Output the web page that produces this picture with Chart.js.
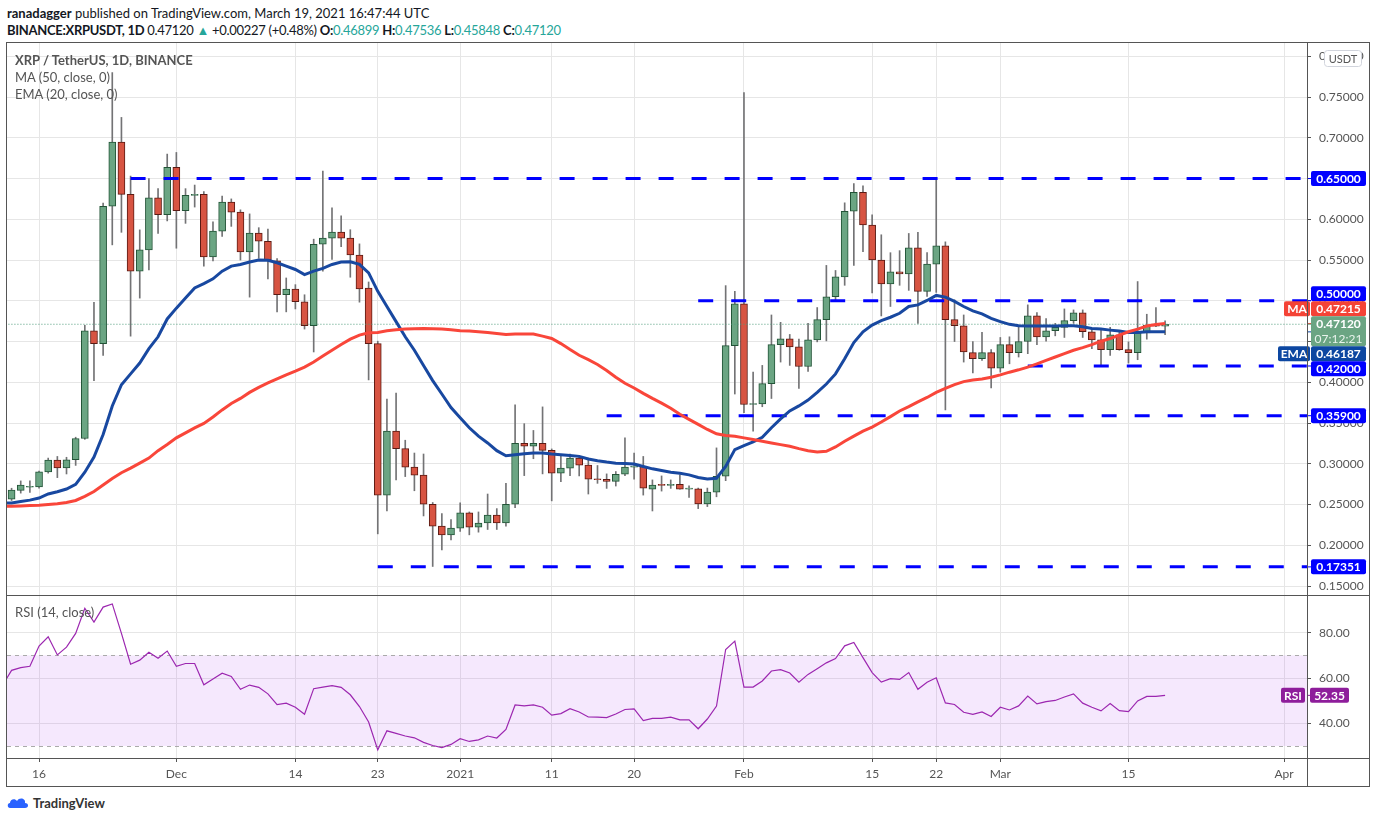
<!DOCTYPE html>
<html lang="en">
<head>
<meta charset="UTF-8">
<title>XRP / TetherUS, 1D, BINANCE</title>
<script src="https://cdn.jsdelivr.net/npm/chart.js@4"></script>
<style>
  body{margin:0;background:#fff;font-family:Lato,'Noto Sans',sans-serif;color:#131722;}
  .wrap{position:relative;width:1376px;height:823px;overflow:hidden;}
  .abs{position:absolute;white-space:nowrap;}
  .t{color:#26a69a;}
  .leg{color:#555;font-size:13px;line-height:17px;}
  .ln{position:absolute;background:#555;}
  canvas{position:absolute;}
</style>
</head>
<body>
<div class="wrap">
  <div class="abs" style="left:7px;top:5px;font-size:13px;"><b>ranadagger</b> published on TradingView.com, March 19, 2021 16:47:44 UTC</div>
  <div class="abs" style="left:7px;top:22px;font-size:13px;letter-spacing:-0.3px;"><b>BINANCE:XRPUSDT, 1D</b> 0.47120 <span class="t">▲</span> +0.00227 (+0.48%) <b>O:</b><span class="t">0.46899</span> <b>H:</b><span class="t">0.47536</span> <b>L:</b><span class="t">0.45848</span> <b>C:</b><span class="t">0.47120</span></div>

  <div class="abs" style="left:6px;top:42px;width:1364px;height:745px;border:1px solid #555;box-sizing:border-box;"></div>
  <canvas id="main" width="1362" height="552" style="left:7px;top:43px;width:1362px;height:552px;"></canvas>
  <canvas id="rsi" width="1362" height="190" style="left:7px;top:596px;width:1362px;height:190px;"></canvas>
  <div class="ln" style="left:6px;top:595px;width:1364px;height:1px;"></div>
  <div class="ln" style="left:6px;top:758px;width:1364px;height:1px;"></div>
  <div class="ln" style="left:1307px;top:42px;width:1px;height:745px;"></div>

  <div class="abs leg" style="left:15px;top:52px;"><b>XRP / TetherUS, 1D, BINANCE</b><br>MA (50, close, 0)<br>EMA (20, close, 0)</div>
  <div class="abs leg" style="left:15px;top:604px;">RSI (14, close)</div>

  <div class="abs" style="left:7px;top:795px;font-size:13px;font-weight:700;color:#333;display:flex;align-items:center;gap:4px;">
    <svg width="22" height="14" viewBox="0 0 22 14"><path d="M3 12 C0 12 0 7 3 7 C3 3 8 2 10 5 C12 1 19 2 18 7 C22 7 22 12 18 12 Z" fill="#2962ff"/></svg>TradingView
  </div>
</div>

<script>
// daily candles XRP/USDT, 2020-11-12 .. 2021-03-19
const startDate = '2020-11-12';
const open = [.2600,.2566,.2674,.2712,.2716,.2900,.3045,.2950,.3050,.3310,.4632,.4475,.6160,.6946,.6306,.5364,.5624,.6264,.6058,
  .6636,.6107,.6293,.6306,.5537,.5855,.6211,.6087,.5599,.5830,.5730,.5490,.5074,.5145,.4988,.4694,.5694,.5769,.5843,.5769,.5562,.5157,.4475,.2616,.3401,.3186,.2959,.2860,.2504,.2236,.2128,
  .2211,.2397,.2223,.2273,.2372,.2273,.2504,.3252,.3215,.3252,.3165,.2884,.2946,.3070,.2983,.2810,.2810,.2785,.2872,.2959,.2967,.2690,.2740,.2736,.2748,.2690,.2694,.2508,.2653,.2847,.4450,
  .4963,.3727,.3736,.3983,.4463,.4533,.4434,.4194,.4521,.4769,.5050,.5293,.6099,.6331,.5930,.5500,.5207,.5355,.5331,.5649,.5116,.5450,.5674,.4769,.4694,.4364,.4289,.4364,
  .4174,.4463,.4364,.4500,.4814,.4558,.4632,.4673,.4756,.4851,.4620,.4521,.4401,.4583,.4401,.4364,.4607,.4702,.4690];
const high = [.262,.270,.279,.279,.291,.307,.309,.308,.3326,.470,.498,.620,.780,.725,.653,.587,.650,.6376,.680,
  .682,.6376,.642,.634,.597,.6285,.625,.6116,.6066,.5897,.588,.5517,.528,.5198,.5074,.5756,.659,.614,.6041,.5872,.5698,.5231,.4504,.3793,.3868,.3289,.3132,.312,.2525,.2388,.2314,
  .2521,.2409,.2409,.2629,.245,.276,.3723,.3492,.3409,.3698,.3182,.3112,.312,.3103,.307,.2979,.2876,.2905,.3318,.3132,.309,.2802,.2851,.2802,.2864,.2731,.2702,.2702,.3195,.5186,.5116,
  .7554,.4124,.4207,.4826,.4736,.4587,.4529,.4723,.4917,.5434,.5372,.6202,.6438,.6409,.6054,.581,.559,.5615,.5826,.5839,.559,.650,.5723,.5012,.4826,.450,.4612,.4401,
  .455,.4558,.469,.495,.4855,.4781,.4723,.490,.4888,.4888,.466,.464,.4674,.4632,.4496,.5236,.4835,.4917,.47536];
const low = [.254,.255,.264,.265,.270,.2885,.283,.2875,.298,.330,.402,.433,.5686,.584,.4566,.5033,.538,.5826,.598,
  .5645,.595,.615,.5426,.5488,.579,.5913,.550,.5045,.5521,.5269,.4864,.4864,.490,.4653,.4372,.5364,.5508,.5665,.5289,.4983,.4029,.214,.2421,.2802,.2843,.2669,.236,.1740,.1942,.2066,
  .217,.2128,.2161,.2194,.2194,.2236,.2463,.2855,.3062,.2876,.2545,.2781,.2855,.2851,.2629,.276,.2698,.2727,.2855,.281,.2616,.2421,.2665,.2698,.269,.2587,.245,.2475,.2595,.2793,.3856,
  .3628,.3401,.3700,.3801,.4248,.4207,.3926,.4132,.4496,.4508,.5012,.519,.5434,.5603,.5095,.4814,.4930,.519,.5128,.4723,.5054,.5103,.3661,.450,.4248,.4116,.4269,.393,
  .4124,.4227,.431,.4351,.4463,.4504,.457,.455,.4723,.455,.4413,.4215,.4331,.4393,.4236,.4277,.4529,.4682,.45848];
const close = [.2560,.2678,.2740,.2716,.2900,.3045,.2950,.3050,.3310,.4632,.4475,.6160,.6946,.6306,.5364,.5624,.6264,.6058,.6636,
  .6107,.6293,.6300,.5537,.5855,.6211,.6087,.5599,.5830,.5730,.5500,.5074,.5145,.4988,.4694,.5694,.5769,.5843,.5769,.5562,.5145,.4475,.2616,.3401,.3186,.2959,.2860,.2504,.2236,.2128,.2211,
  .2397,.2223,.2273,.2372,.2273,.2504,.3252,.3215,.3252,.3165,.2884,.2946,.3070,.2983,.2810,.2804,.2785,.2872,.2959,.2967,.2702,.2740,.2736,.2748,.2690,.2698,.2508,.2653,.2847,.4450,.4963,
  .3727,.3736,.3983,.4463,.4533,.4434,.4194,.4521,.4769,.5050,.5293,.6099,.6331,.5930,.5500,.5207,.5355,.5331,.5649,.5116,.5450,.5674,.4769,.4694,.4372,.4289,.4364,.4174,
  .4463,.4364,.4500,.4814,.4558,.4632,.4673,.4756,.4851,.4620,.4521,.4401,.4583,.4401,.4364,.4607,.4702,.4690,.4712];

// indicator lines
const ma50 = [.2478,.2480,.2483,.2487,.2492,.2500,.2510,.2525,.2550,.2600,.2660,.2740,.2820,.2890,.2946,.3008,.3070,.3161,.3236,
  .3318,.3380,.3440,.3496,.3574,.3661,.3740,.3802,.3876,.3938,.3992,.4041,.4091,.4136,.4186,.4248,.4322,.4393,.4463,.4529,.4579,.4607,.4612,.4632,.4645,.4653,.4657,.4661,.4657,.4653,.4645,
  .4632,.4628,.4620,.4612,.4600,.4587,.4591,.4591,.4591,.4566,.4537,.4475,.4401,.4331,.4277,.4219,.4145,.4062,.3988,.3930,.3864,.3802,.3744,.3682,.3607,.3545,.3483,.3421,.3368,.3347,.3339,
  .3318,.3298,.3277,.3256,.3235,.3215,.3186,.3161,.3145,.3153,.3207,.3277,.3339,.3401,.3450,.3512,.3579,.3648,.3702,.3760,.3814,.3876,.3926,.3971,.4008,.4029,.4041,.4062,
  .4091,.4124,.4153,.4186,.4227,.4269,.4310,.4351,.4393,.4426,.4463,.4504,.4537,.4579,.4620,.4653,.4690,.4710,.47215];
const ema20 = [.2515,.2520,.2537,.2554,.2580,.2630,.2657,.2690,.2748,.2897,.3083,.3360,.3710,.3970,.4103,.4236,.4413,.4558,.4777,
  .4910,.5033,.5157,.5211,.5269,.5364,.5426,.5446,.5475,.5500,.5496,.5467,.5426,.5384,.5322,.5364,.5397,.5446,.5475,.5479,.5446,.5343,.5116,.4930,.4744,.4558,.4393,.4207,.4021,.3856,.3690,
  .3566,.3442,.3339,.3256,.3161,.3099,.3112,.3124,.3132,.3132,.3120,.3112,.3103,.3091,.3058,.3037,.3021,.3008,.3004,.2996,.2967,.2938,.2917,.2897,.2884,.2864,.2831,.2814,.2822,.2967,.3174,
  .3223,.3269,.3326,.3442,.3550,.3648,.3710,.3781,.3876,.3979,.4103,.4290,.4488,.4620,.4702,.4756,.4798,.4847,.4930,.4950,.5004,.5066,.5045,.4992,.4930,.4876,.4839,.4785,
  .4744,.4711,.4694,.4690,.4690,.4690,.4690,.4694,.4694,.4682,.4661,.4653,.4640,.4628,.4612,.4612,.4620,.4620,.46187];
const rsi14 = [56.7,63.4,64.6,65.2,74.1,78.2,70.2,73.6,79.7,90.8,84.7,91.3,92.7,79.7,66.1,67.9,71.4,68.7,71.9,
  65.2,66.4,66.4,57.0,59.6,62.1,60.7,55.0,56.9,55.9,53.0,48.3,48.9,47.1,44.0,55.3,56.0,56.6,55.9,52.6,47.4,40.6,28.3,36.7,35.6,34.4,33.6,31.6,30.2,29.3,30.7,
  33.2,32.0,32.7,34.4,33.5,37.3,48.1,47.7,48.1,47.1,43.6,44.3,46.5,45.0,42.8,42.7,42.5,44.1,46.1,46.4,41.2,42.2,42.2,42.7,41.5,41.5,37.6,41.9,47.6,72.6,76.3,
  56.0,56.0,58.7,63.1,63.7,62.2,58.2,61.6,64.1,66.7,68.6,74.2,75.7,69.0,62.4,58.2,59.7,59.4,62.4,55.0,58.1,60.1,49.0,48.3,44.9,44.0,45.0,43.0,
  47.1,45.9,47.7,52.0,48.6,49.6,50.1,51.6,53.0,48.9,47.1,45.5,48.7,45.6,45.2,49.9,51.9,51.9,52.35];

// drawn horizontal levels
const levelValues = [0.65, 0.5, 0.42, 0.359, 0.17351];
const levelStarts = ['2020-11-26', '2021-01-27', '2021-03-04', '2021-01-17', '2020-12-23'];

// axes
const tickDates = ['2020-11-16','2020-12-01','2020-12-14','2020-12-23','2021-01-01','2021-01-11','2021-01-20','2021-02-01','2021-02-15','2021-02-22','2021-03-01','2021-03-15','2021-04-01'];
const tickText = ['16','Dec','14','23','2021','11','20','Feb','15','22','Mar','15','Apr'];
const priceTicks = [0.15,0.20,0.25,0.30,0.35,0.40,0.45,0.50,0.55,0.60,0.65,0.70,0.75,0.80];
const rsiTicks = [40, 60, 80];
const lastDate = '2021-04-03';
const countdown = '07:12:21';

const dayIndex = s => Math.round((Date.parse(s) - Date.parse(startDate)) / 864e5);
const tickIdx = tickDates.map(dayIndex);
const xMax = dayIndex(lastDate) + 0.5;

const GREEN = '#6ba583', GREEN_B = '#225437', RED = '#d75442', RED_B = '#5b1a13';
const GRID = '#e6e6e6', AX = '#555';
const FONT = 'Lato, "Noto Sans", sans-serif';

const up = open.map((o, i) => close[i] >= o);
const pts = arr => arr.map((v, i) => ({x: i, y: v}));

const lastClose = close[close.length - 1];
const maLast = ma50[ma50.length - 1], emaLast = ema20[ema20.length - 1], rsiLast = rsi14[rsi14.length - 1];

// keep chart area flush with the canvas edges
const noPad = s => { s.paddingTop = 0; s.paddingBottom = 0; s.paddingLeft = 0; s.paddingRight = 0; };

function box(ctx, x, yc, w, h, bg, txt, bold) {
  ctx.fillStyle = bg;
  ctx.beginPath(); ctx.roundRect(x, yc - h / 2, w, h, 2); ctx.fill();
  ctx.fillStyle = '#fff';
  ctx.font = (bold ? 'bold ' : '') + '12px ' + FONT;
  ctx.textAlign = 'center'; ctx.textBaseline = 'middle';
  ctx.fillText(txt, x + w / 2, yc + 0.5);
}

// price labels on the right, pushed apart like TradingView does
const priceLabels = {
  id: 'priceLabels',
  afterDraw(chart) {
    const {ctx, chartArea: a, scales: {y}} = chart;
    const L = levelValues.map(v => ({v, h: 15, bg: '#0000ff', txt: v.toFixed(5)}));
    L.push({v: maLast, h: 15, bg: '#f44336', txt: maLast.toFixed(5), tag: 'MA', tw: 26});
    L.push({v: emaLast, h: 15, bg: '#0d47a1', txt: emaLast.toFixed(5), tag: 'EMA', tw: 32});
    L.push({v: lastClose, h: 30, bg: GREEN, txt: lastClose.toFixed(5), anchor: true});
    L.forEach(l => { l.c = y.getPixelForValue(l.v) + (l.anchor ? 7 : 0); l.want = l.c; });
    L.sort((p, q) => p.want - q.want);
    const k = L.findIndex(l => l.anchor);
    for (let i = k - 1; i >= 0; i--) L[i].c = Math.min(L[i].want, L[i + 1].c - L[i + 1].h / 2 - L[i].h / 2);
    for (let i = k + 1; i < L.length; i++) L[i].c = Math.max(L[i].want, L[i - 1].c + L[i - 1].h / 2 + L[i].h / 2);
    const bx = a.right + 4, bw = 55;
    L.forEach(l => {
      ctx.fillStyle = l.bg;
      ctx.fillRect(a.right, y.getPixelForValue(l.v) - 0.5, 4, 1);
      if (l.anchor) {
        ctx.beginPath(); ctx.roundRect(bx, l.c - 15, bw, 30, 2); ctx.fill();
        ctx.fillStyle = '#fff'; ctx.textAlign = 'center'; ctx.textBaseline = 'middle';
        ctx.font = 'bold 12px ' + FONT; ctx.fillText(l.txt, bx + bw / 2, l.c - 7);
        ctx.fillStyle = '#e8f3ec'; ctx.font = '12px ' + FONT; ctx.fillText(countdown, bx + bw / 2, l.c + 8);
      } else {
        box(ctx, bx, l.c, bw, l.h, l.bg, l.txt, true);
        if (l.tag) box(ctx, a.right + 3 - l.tw, l.c, l.tw, l.h, l.bg, l.tag, true);
      }
    });
    // unit badge
    ctx.fillStyle = '#fff'; ctx.strokeStyle = '#d1d4dc'; ctx.lineWidth = 1;
    ctx.beginPath(); ctx.roundRect(a.right + 17.5, 7.5, 37, 16, 3); ctx.fill(); ctx.stroke();
    ctx.fillStyle = AX; ctx.font = '11px ' + FONT; ctx.textAlign = 'center'; ctx.textBaseline = 'middle';
    ctx.fillText('USDT', a.right + 36, 16);
  }
};

new Chart(document.getElementById('main'), {
  type: 'bar',
  data: {
    datasets: [
      {type: 'line', data: pts(ma50), borderColor: '#f9463a', borderWidth: 3, pointRadius: 0, order: 0},
      {type: 'line', data: pts(ema20), borderColor: '#1848a0', borderWidth: 3, pointRadius: 0, order: 0},
      ...levelValues.map((v, i) => ({type: 'line', data: [{x: dayIndex(levelStarts[i]), y: v}, {x: xMax, y: v}],
        borderColor: '#0000ff', borderWidth: 3, borderDash: [15, 18], pointRadius: 0, order: 0})),
      {type: 'line', data: [{x: 0, y: lastClose}, {x: xMax, y: lastClose}], borderColor: '#4f9c7c',
        borderWidth: 1, borderDash: [1, 2], pointRadius: 0, order: 0},
      {data: open.map((o, i) => ({x: i, y: [o, close[i]]})), grouped: false, barThickness: 7, minBarLength: 1,
        backgroundColor: up.map(u => u ? GREEN : RED), borderColor: up.map(u => u ? GREEN_B : RED_B),
        borderWidth: 1, borderSkipped: false, order: 1},
      {data: low.map((l, i) => ({x: i, y: [l, high[i]]})), grouped: false, barThickness: 1,
        backgroundColor: '#737375', order: 2}
    ]
  },
  options: {
    responsive: false, animation: false, events: [],
    layout: {padding: 0},
    plugins: {legend: {display: false}, tooltip: {enabled: false}},
    scales: {
      x: {type: 'linear', min: 0.5, max: xMax, offset: false,
        ticks: {display: false}, grid: {color: GRID, drawTicks: false, offset: false}, border: {display: false},
        afterBuildTicks: s => { s.ticks = tickIdx.map(v => ({value: v})); },
        afterFit: s => { s.height = 0; noPad(s); }},
      y: {position: 'right', min: 0.139, max: 0.8163,
        afterBuildTicks: s => { s.ticks = priceTicks.map(v => ({value: v})); },
        ticks: {callback: v => v.toFixed(5), color: AX, font: {size: 12, family: FONT}, padding: 8},
        grid: {color: GRID, tickColor: AX, tickLength: 4}, border: {color: AX},
        afterFit: s => { s.width = 62; noPad(s); }}
    }
  },
  plugins: [priceLabels]
});

// RSI pane
const rsiBand = {
  id: 'rsiBand',
  beforeDatasetsDraw(chart) {
    const {ctx, chartArea: a, scales: {y}} = chart;
    const y70 = y.getPixelForValue(70), y30 = y.getPixelForValue(30);
    ctx.save();
    ctx.fillStyle = 'rgba(180,80,240,0.13)';
    ctx.fillRect(a.left, y70, a.right - a.left, y30 - y70);
    ctx.strokeStyle = '#aaa'; ctx.lineWidth = 1; ctx.setLineDash([4, 4]);
    [y70, y30].forEach(p => { ctx.beginPath(); ctx.moveTo(a.left, Math.round(p) + 0.5); ctx.lineTo(a.right, Math.round(p) + 0.5); ctx.stroke(); });
    ctx.restore();
  },
  afterDraw(chart) {
    const {ctx, chartArea: a, scales: {y}} = chart;
    const p = y.getPixelForValue(rsiLast);
    ctx.fillStyle = '#8e1d9b';
    ctx.fillRect(a.right, p - 0.5, 4, 1);
    box(ctx, a.right + 3, p, 39, 15, '#8e1d9b', rsiLast.toFixed(2), true);
    box(ctx, a.right - 26, p, 24, 15, '#8e1d9b', 'RSI', true);
  }
};

new Chart(document.getElementById('rsi'), {
  type: 'line',
  data: {datasets: [{data: pts(rsi14), borderColor: '#9c27b0', borderWidth: 1.2, pointRadius: 0}]},
  options: {
    responsive: false, animation: false, events: [],
    layout: {padding: 0},
    plugins: {legend: {display: false}, tooltip: {enabled: false}},
    scales: {
      x: {type: 'linear', min: 0.5, max: xMax, offset: false,
        afterBuildTicks: s => { s.ticks = tickIdx.map(v => ({value: v})); },
        ticks: {autoSkip: false, maxRotation: 0, padding: 5, color: AX, font: {size: 12, family: FONT},
          callback: v => tickText[tickIdx.indexOf(v)]},
        grid: {color: GRID, tickColor: AX, tickLength: 4, offset: false}, border: {color: AX},
        afterFit: s => { s.height = 28; noPad(s); }},
      y: {position: 'right', min: 24.7, max: 96.2,
        afterBuildTicks: s => { s.ticks = rsiTicks.map(v => ({value: v})); },
        ticks: {callback: v => v.toFixed(2), color: AX, font: {size: 12, family: FONT}, padding: 8},
        grid: {color: GRID, tickColor: AX, tickLength: 4}, border: {color: AX},
        afterFit: s => { s.width = 62; noPad(s); }}
    }
  },
  plugins: [rsiBand]
});
</script>
</body>
</html>
